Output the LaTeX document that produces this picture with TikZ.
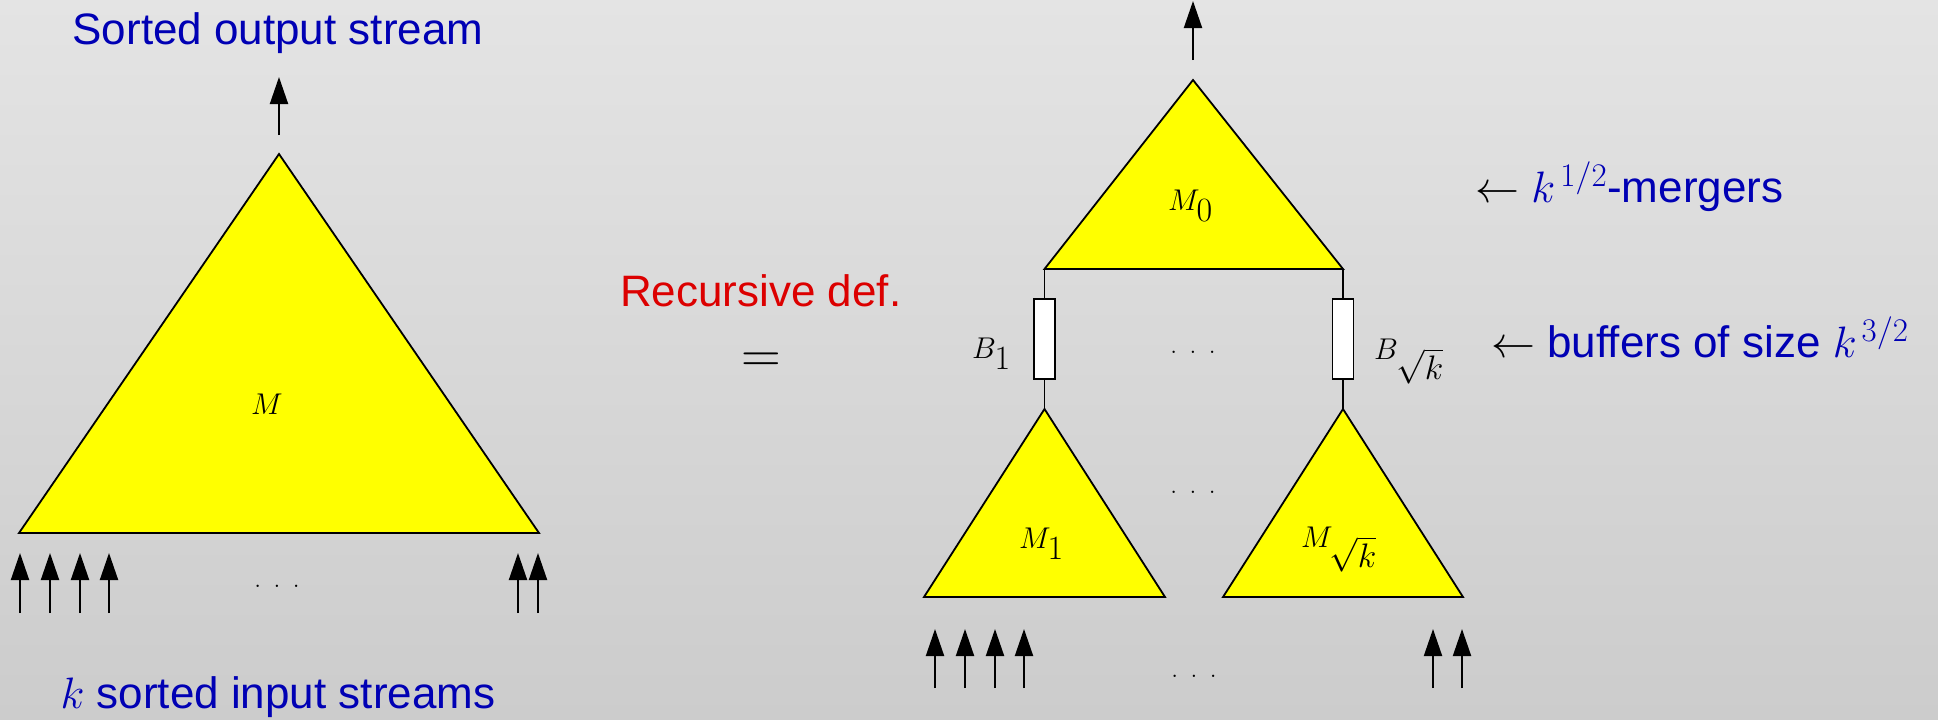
\RequirePackage{fix-cm}
\documentclass[tikz,border=0pt]{standalone}
\usepackage[no-math]{fontspec}
\newfontfamily\sansf{Liberation Sans}
\usetikzlibrary{arrows.meta}
\DeclareMathSizes{44}{44}{33}{26}
\DeclareMathSizes{30}{30}{34}{24}
\definecolor{tblue}{RGB}{0,0,180}
\definecolor{tred}{RGB}{220,0,0}
\definecolor{tyellow}{RGB}{255,255,0}
\definecolor{bgtop}{RGB}{228,228,228}
\definecolor{bgbot}{RGB}{204,204,204}
\begin{document}
\begin{tikzpicture}[x=1pt,y=-1pt,
  tri/.style={draw=black,fill=tyellow,line width=1.8pt,line join=miter},
  flow/.style={line width=2pt,-{Triangle[length=27pt,width=18pt]}},
  wire/.style={line width=1.6pt},
  buf/.style={draw=black,fill=white,line width=1.8pt,minimum width=21pt,minimum height=80pt,inner sep=0pt},
  big/.style={font=\fontsize{44}{52}\selectfont\sansf,inner sep=0pt},
  mlabel/.style={font=\fontsize{30}{36}\selectfont,inner sep=0pt},
  dotsl/.style={font=\fontsize{29}{34}\selectfont,inner sep=0pt},
]
\useasboundingbox (0,0) rectangle (1938,720);
\shade[top color=bgtop,bottom color=bgbot] (0,0) rectangle (1938,720);

% ---------- left: the merger M ----------
\node[big,text=tblue,anchor=base] (title) at (278,44) {Sorted output stream};
\coordinate (Lfrom) at (279,135);
\coordinate (Lout) at (279,77);
\draw[flow] (Lfrom) -- (Lout);

\coordinate (Ltop) at (279,154);
\coordinate (Lbl) at (19,533);
\coordinate (Lbr) at (539,533);
\draw[tri] (Lbl) -- (Ltop) -- (Lbr) -- cycle;
\node[mlabel] (Mlab) at (267,404) {$M$};

\foreach \i/\xx in {1/20,2/50,3/80,4/109,5/518,6/538}{
  \coordinate (la\i) at (\xx,613);
  \coordinate (lb\i) at (\xx,553);
  \draw[flow] (la\i) -- (lb\i);
}
\node[dotsl] (ldots) at (277,586) {.\hspace{12pt}.\hspace{12pt}.};
\node[big,text=tblue,anchor=base] (inlab) at (278,708) {$k$ sorted input streams};

% ---------- middle ----------
\node[big,text=tred,anchor=base west] (rec) at (620,306) {Recursive def.};
\node[font=\fontsize{55}{60}\selectfont,inner sep=0pt,anchor=base] (eq) at (761,372) {$=$};

% ---------- right: recursive definition ----------
\coordinate (Rfrom) at (1193,60);
\coordinate (Rout) at (1193,1);
\draw[flow] (Rfrom) -- (Rout);

\coordinate (T0) at (1193,80);
\coordinate (T0l) at (1044.5,269);
\coordinate (T0r) at (1343,269);
\draw[tri] (T0l) -- (T0) -- (T0r) -- cycle;
\node[mlabel,anchor=base west] (M0lab) at (1168,210) {$M_{0}$};

\node[buf] (B1) at (1044.5,339) {};
\node[buf] (B2) at (1343,339) {};
\node[mlabel,anchor=base west] (B1lab) at (972,358) {$B_{1}$};
\node[mlabel,anchor=base west] (B2lab) at (1374,359) {$B_{\sqrt{k}}$};

\coordinate (T1) at (1044.5,409);
\coordinate (T1l) at (924,597);
\coordinate (T1r) at (1165,597);
\coordinate (T2) at (1343,409);
\coordinate (T2l) at (1223,597);
\coordinate (T2r) at (1463,597);

\draw[wire] (T0l) -- (B1.north);
\draw[wire] (B1.south) -- (T1);
\draw[wire] (T0r) -- (B2.north);
\draw[wire] (B2.south) -- (T2);

\draw[tri] (T1l) -- (T1) -- (T1r) -- cycle;
\draw[tri] (T2l) -- (T2) -- (T2r) -- cycle;
\node[mlabel,anchor=base west] (M1lab) at (1019,548) {$M_{1}$};
\node[mlabel,anchor=base west] (M2lab) at (1301,547) {$M_{\sqrt{k}}$};

\node[dotsl] (rdots1) at (1193,352) {.\hspace{12pt}.\hspace{12pt}.};
\node[dotsl] (rdots2) at (1193,492) {.\hspace{12pt}.\hspace{12pt}.};
\node[dotsl] (rdots3) at (1194,676) {.\hspace{12pt}.\hspace{12pt}.};

\foreach \i/\xx in {1/935,2/965,3/995,4/1024,5/1433,6/1462}{
  \coordinate (ra\i) at (\xx,688);
  \coordinate (rb\i) at (\xx,629);
  \draw[flow] (ra\i) -- (rb\i);
}

\node[big,anchor=base west] (lab1) at (1475,202) {$\leftarrow$ \textcolor{tblue}{$k^{\kern5pt 1/2}$-mergers}};
\node[big,anchor=base west] (lab2) at (1491,357) {$\leftarrow$ \textcolor{tblue}{buffers of size $k^{\kern5pt 3/2}$}};
\end{tikzpicture}
\end{document}
